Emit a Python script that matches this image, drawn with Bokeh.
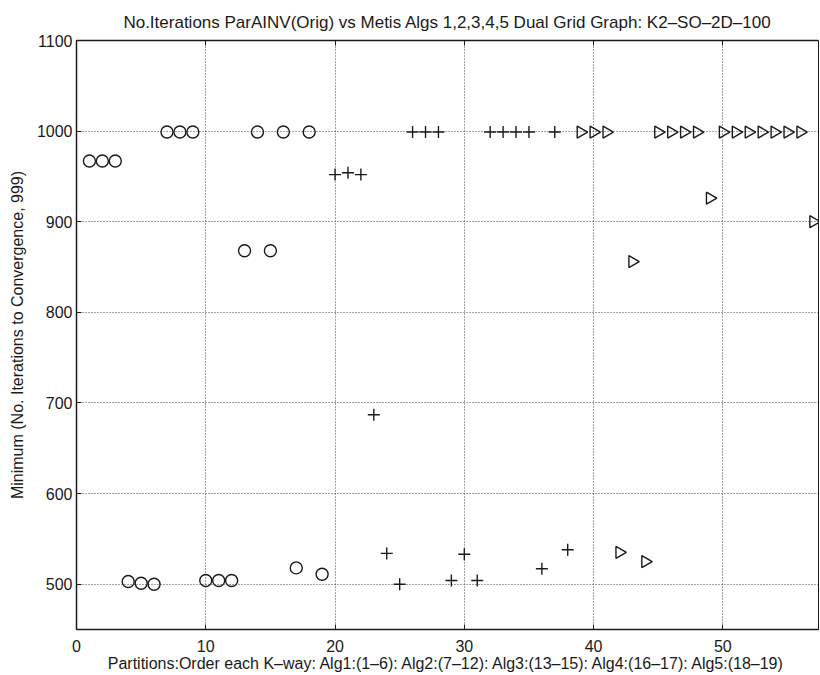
from bokeh.plotting import figure
from bokeh.models import Range1d, LinearAxis, FixedTicker
from bokeh.embed import file_html
from bokeh.resources import INLINE

# Alg data (partition index -> min iterations)
circle_x = list(range(1, 20))
circle_y = [967, 967, 967, 503, 501, 500, 999, 999, 999, 504, 504, 504, 868, 999, 868, 999, 518, 999, 511]

plus_x = list(range(20, 39))
plus_y = [952, 954, 952, 687, 534, 500, 999, 999, 999, 504, 533, 504, 999, 999, 999, 999, 517, 999, 538]

tri_x = list(range(39, 58))
tri_y = [999, 999, 999, 535, 856, 525, 999, 999, 999, 999, 926, 999, 999, 999, 999, 999, 999, 999, 900]

x_ticks = [0, 10, 20, 30, 40, 50]
y_ticks = [500, 600, 700, 800, 900, 1000, 1100]

FONT = "Liberation Sans"
INK = "#1a1a1a"
FS = "16px"

p = figure(width=820, height=675, output_backend="svg", toolbar_location=None,
           x_range=Range1d(0, 57.4), y_range=Range1d(450, 1100),
           min_border_left=76, min_border_right=2, min_border_top=40, min_border_bottom=46,
           title="No.Iterations ParAINV(Orig) vs Metis Algs 1,2,3,4,5 Dual Grid Graph: K2\u2013SO\u20132D\u2013100")
p.outline_line_color = INK
p.outline_line_width = 1
p.background_fill_color = "white"
p.border_fill_color = "white"

p.title.align = "center"
p.title.text_font = FONT
p.title.text_font_size = "17px"
p.title.text_font_style = "normal"
p.title.text_color = INK
p.title.standoff = 17

for ax in (p.xaxis[0], p.yaxis[0]):
    ax.major_tick_in = 5
    ax.major_tick_out = 0
    ax.minor_tick_in = 0
    ax.minor_tick_out = 0
    ax.axis_line_color = INK
    ax.axis_line_width = 1.5
    ax.major_tick_line_color = INK
    ax.major_label_text_font = FONT
    ax.major_label_text_font_size = FS
    ax.major_label_text_color = INK
    ax.axis_label_text_font = FONT
    ax.axis_label_text_font_size = FS
    ax.axis_label_text_font_style = "normal"
    ax.axis_label_text_color = INK

p.xaxis[0].ticker = FixedTicker(ticks=x_ticks)
p.yaxis[0].ticker = FixedTicker(ticks=y_ticks)
p.xaxis[0].axis_label = "Partitions:Order each K\u2013way: Alg1:(1\u20136): Alg2:(7\u201312): Alg3:(13\u201315): Alg4:(16\u201317): Alg5:(18\u201319)"
p.yaxis[0].axis_label = "Minimum (No. Iterations to Convergence, 999)"
p.xaxis[0].major_label_standoff = 10
p.xaxis[0].axis_label_standoff = 0
p.yaxis[0].major_label_standoff = 4
p.yaxis[0].axis_label_standoff = 8

top = LinearAxis(ticker=FixedTicker(ticks=x_ticks), major_label_text_font_size="0px",
                 major_tick_in=5, major_tick_out=0, minor_tick_in=0, minor_tick_out=0,
                 axis_line_color=INK, axis_line_width=1.5, major_tick_line_color=INK)
top.major_label_text_alpha = 0
p.add_layout(top, "above")

p.grid.grid_line_color = "#222222"
p.grid.grid_line_dash = "1 2"
p.grid.grid_line_width = 1
p.grid.grid_line_alpha = 0.85
p.xgrid.ticker = FixedTicker(ticks=x_ticks)
p.ygrid.ticker = FixedTicker(ticks=y_ticks)

p.scatter(circle_x, circle_y, marker="circle", size=12, fill_color=None, line_color=INK, line_width=1.4)
p.scatter(plus_x, plus_y, marker="cross", size=12, line_color=INK, line_width=1.4)
p.scatter(tri_x, tri_y, marker="triangle", angle=-1.5708, size=12, fill_color=None, line_color=INK, line_width=1.4)

open("out.html", "w").write(file_html(p, INLINE))
